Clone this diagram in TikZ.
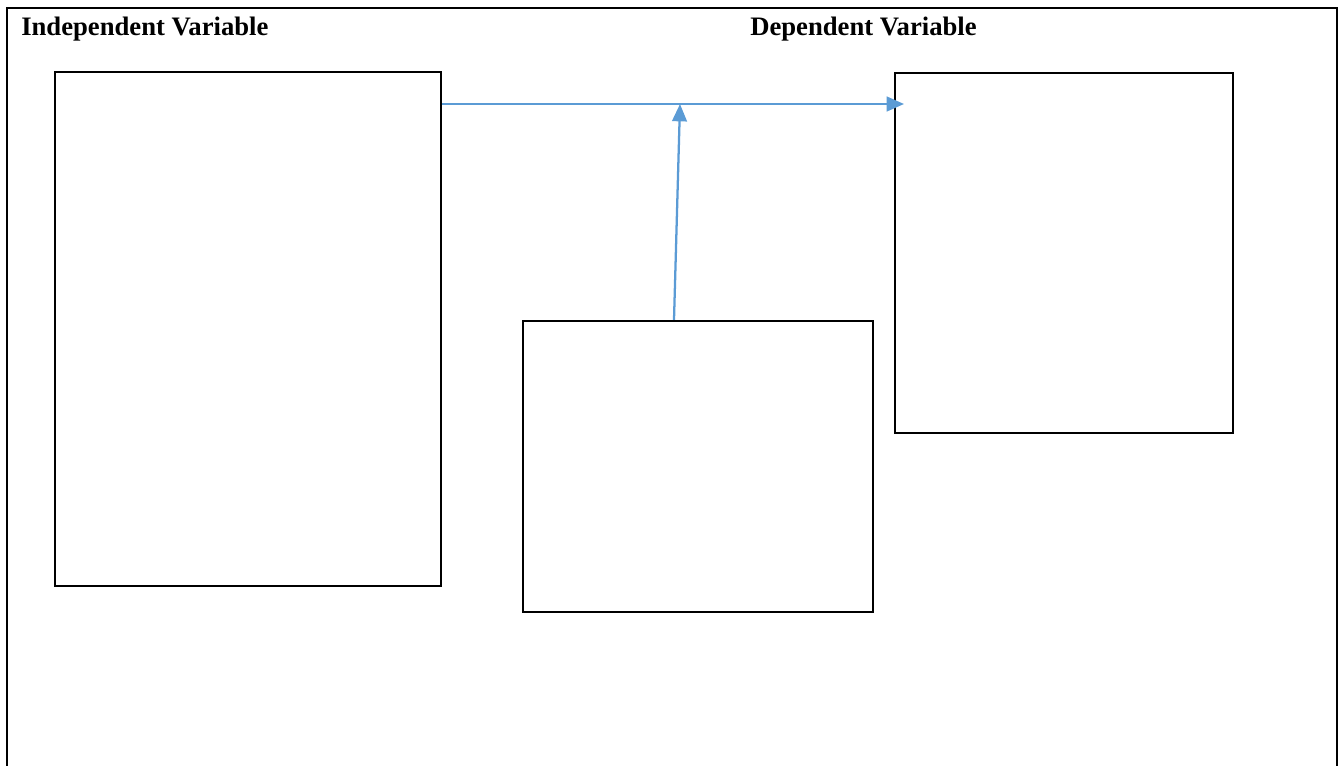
\documentclass[tikz,border=0pt]{standalone}
\usepackage{fontspec}
\setmainfont{Liberation Serif}
\usetikzlibrary{arrows.meta}
\definecolor{arrowblue}{RGB}{91,155,213}
\tikzset{
  box/.style={draw=black, line width=1.8pt, minimum width=#1, inner sep=0pt},
  frame/.style={draw=black, line width=1.9pt},
  arr/.style={draw=arrowblue, line width=1.7pt, -{Triangle[length=13pt,width=11pt]}},
  head/.style={font=\fontsize{20}{22}\selectfont\bfseries, inner sep=0pt, anchor=base west}
}
\begin{document}
\begin{tikzpicture}[x=0.75pt,y=-0.75pt]
\useasboundingbox (0,0) rectangle (1338,765);
\draw[frame] (7,766) -- (7,8) -- (1337,8) -- (1337,766);
\node[head] (iv) at (21,35) {Independent Variable};
\node[head] (dv) at (750,35) {Dependent Variable};
\node[box=289.5pt, minimum height=385.5pt] (A) at (248,329) {};
\node[box=262.5pt, minimum height=218.25pt] (B) at (698,466.5) {};
\node[box=253.5pt, minimum height=270pt] (C) at (1064,253) {};
\coordinate (ya) at (0,104);
\coordinate (tip) at (904,104);
\coordinate (j) at (680,104);
\draw[arr] (A.east |- ya) -- (tip);
\draw[arr] ([xshift=-18pt]B.north) -- (j);
\end{tikzpicture}
\end{document}
